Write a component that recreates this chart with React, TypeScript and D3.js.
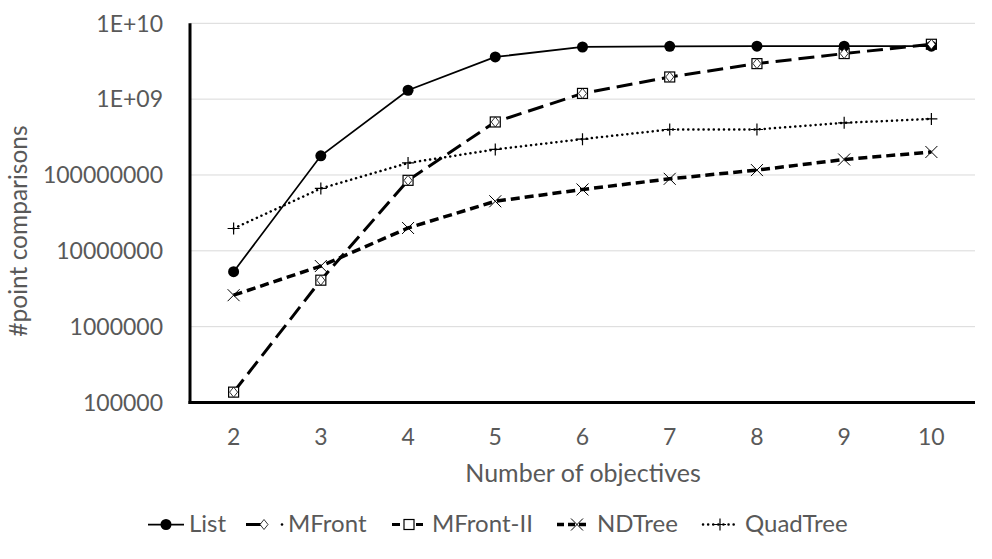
import React from "react";
import * as d3 from "d3";

const categories = ["2", "3", "4", "5", "6", "7", "8", "9", "10"];
const listValues = [5.3e6, 1.79e8, 1.31e9, 3.6e9, 4.87e9, 4.97e9, 5.0e9, 5.0e9, 5.0e9];
const mfrontValues = [1.37e5, 4.1e6, 8.5e7, 5.0e8, 1.19e9, 1.96e9, 2.94e9, 3.99e9, 5.29e9];
const mfront2Values = [1.37e5, 4.1e6, 8.5e7, 5.0e8, 1.19e9, 1.96e9, 2.94e9, 3.99e9, 5.29e9];
const ndtreeValues = [2.6e6, 6.3e6, 2.0e7, 4.5e7, 6.44e7, 8.9e7, 1.16e8, 1.6e8, 2.01e8];
const quadtreeValues = [1.97e7, 6.64e7, 1.44e8, 2.17e8, 2.97e8, 3.98e8, 3.98e8, 4.87e8, 5.48e8];
const yTicks = [1e5, 1e6, 1e7, 1e8, 1e9, 1e10];
const yTickLabels = ["100000", "1000000", "10000000", "100000000", "1E+09", "1E+10"];

const W = 992, H = 559;
const M = { left: 190, right: 975, top: 23.3, bottom: 402.5 };
const FONT = "Lato, 'Open Sans', sans-serif";
const TXT = "#595959";

type Marker = "circle" | "diamond" | "square" | "x" | "plus";
interface Series { name: string; values: number[]; marker: Marker; width: number; dash: string | null; legendDash: string | null; drawLine: boolean; cap: string; }

const series: Series[] = [
  { name: "MFront", values: mfrontValues, marker: "diamond", width: 3, dash: null, legendDash: null, drawLine: false, cap: "butt" },
  { name: "MFront-II", values: mfront2Values, marker: "square", width: 3, dash: "16 7", legendDash: "8 4", drawLine: true, cap: "butt" },
  { name: "NDTree", values: ndtreeValues, marker: "x", width: 3.5, dash: "9 5", legendDash: "7 4", drawLine: true, cap: "butt" },
  { name: "QuadTree", values: quadtreeValues, marker: "plus", width: 2.5, dash: "0.1 5", legendDash: "0.1 5", drawLine: true, cap: "round" },
  { name: "List", values: listValues, marker: "circle", width: 1.75, dash: null, legendDash: null, drawLine: true, cap: "butt" },
];
const legendOrder = ["List", "MFront", "MFront-II", "NDTree", "QuadTree"];

function MarkerShape({ type, x, y }: { type: Marker; x: number; y: number }) {
  switch (type) {
    case "circle":
      return <circle cx={x} cy={y} r={5.5} fill="#000" />;
    case "diamond":
      return <path d={`M${x},${y - 5}L${x + 4},${y}L${x},${y + 5}L${x - 4},${y}Z`} fill="#fff" stroke="#000" strokeWidth={0.8} />;
    case "square":
      return <rect x={x - 5} y={y - 5} width={10} height={10} fill="#fff" stroke="#000" strokeWidth={1.2} />;
    case "x":
      return <path d={`M${x - 6},${y - 6}L${x + 6},${y + 6}M${x - 6},${y + 6}L${x + 6},${y - 6}`} stroke="#000" strokeWidth={1} fill="none" />;
    case "plus":
      return <path d={`M${x - 6},${y}L${x + 6},${y}M${x},${y - 6}L${x},${y + 6}`} stroke="#000" strokeWidth={1.2} fill="none" />;
  }
}

export default function App() {
  const x = d3.scaleBand<string>().domain(categories).range([M.left, M.right]);
  const y = d3.scaleLog().domain([1e5, 1e10]).range([M.bottom, M.top]);
  const cx = (c: string) => (x(c) as number) + x.bandwidth() / 2;
  const line = d3.line<number>().x((_, i) => cx(categories[i])).y((v) => y(v));

  const legendX: Record<string, { line: [number, number]; marker: number; text: number }> = {
    "List": { line: [148, 184], marker: 166, text: 189 },
    "MFront": { line: [246, 262], marker: 264, text: 288 },
    "MFront-II": { line: [392, 423], marker: 409, text: 432 },
    "NDTree": { line: [557, 589], marker: 577, text: 597 },
    "QuadTree": { line: [703, 736], marker: 720, text: 745 },
  };
  const ly = 524.5;

  return (
    <svg width={W} height={H} style={{ position: "absolute", left: 0, top: 0, background: "#fff" }} fontFamily={FONT}>
      <rect width={W} height={H} fill="#fff" />
      {yTicks.map((t) => (
        <line key={t} x1={M.left} x2={M.right} y1={y(t)} y2={y(t)} stroke="#d9d9d9" strokeWidth={1} />
      ))}
      {yTicks.map((t, i) => (
        <text key={"l" + t} x={163} y={y(t)} dy="0.36em" textAnchor="end" fontSize={23} fill={TXT}>{yTickLabels[i]}</text>
      ))}
      {categories.map((c) => (
        <text key={c} x={cx(c)} y={445} textAnchor="middle" fontSize={23} fill={TXT}>{c}</text>
      ))}
      <text x={583} y={482} textAnchor="middle" fontSize={25} fill={TXT}>Number of objectives</text>
      <text transform={`translate(27,231) rotate(-90)`} textAnchor="middle" fontSize={24.5} fill={TXT}>#point comparisons</text>

      {series.map((s) => s.drawLine && (
        <path key={s.name} d={line(s.values) || ""} fill="none" stroke="#000" strokeWidth={s.width}
          strokeDasharray={s.dash || undefined} strokeLinecap={s.cap as any} />
      ))}
      {series.map((s) => (
        <g key={"m" + s.name}>
          {s.values.map((v, i) => <MarkerShape key={i} type={s.marker} x={cx(categories[i])} y={y(v)} />)}
        </g>
      ))}
      {series.filter((s) => s.name === "MFront").map((s) => (
        <g key="mf-top">
          {s.values.map((v, i) => <MarkerShape key={i} type={s.marker} x={cx(categories[i])} y={y(v)} />)}
        </g>
      ))}

      <line x1={M.left} x2={M.left} y1={M.top} y2={M.bottom + 1.5} stroke="#000" strokeWidth={3} />
      <line x1={M.left - 1.5} x2={M.right} y1={M.bottom} y2={M.bottom} stroke="#000" strokeWidth={3} />

      {legendOrder.map((n) => {
        const s = series.find((q) => q.name === n)!;
        const p = legendX[n];
        return (
          <g key={"lg" + n}>
            <line x1={p.line[0]} x2={p.line[1]} y1={ly} y2={ly} stroke="#000" strokeWidth={s.width}
              strokeDasharray={s.legendDash || undefined} strokeLinecap={s.cap as any} />
            {n === "MFront" && <circle cx={282} cy={ly} r={1.3} fill="#000" />}
            <MarkerShape type={s.marker} x={p.marker} y={ly} />
            <text x={p.text} y={532} fontSize={24} fill={TXT}>{n}</text>
          </g>
        );
      })}
    </svg>
  );
}
